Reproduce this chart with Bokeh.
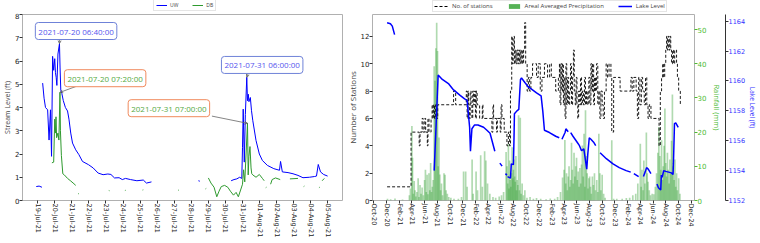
import numpy as np
import pandas as pd
from bokeh.plotting import figure
from bokeh.layouts import row, column
from bokeh.models import (ColumnDataSource, Range1d, LinearAxis, FixedTicker, DatetimeTickFormatter,
                          Legend, LegendItem, Label, Arrow, OpenHead)
from bokeh.embed import file_html
from bokeh.resources import INLINE

nan = float("nan")

# ---------------- left panel data: stream level (ft) ----------------
uw_time = ["2021-07-18 22:00", "2021-07-19 02:00", "2021-07-19 06:00", "2021-07-19 06:30",
           "2021-07-19 07:00", "2021-07-19 09:00", "2021-07-19 11:00", "2021-07-19 14:00",
           "2021-07-19 16:00", "2021-07-19 18:00", "2021-07-19 19:30", "2021-07-19 21:00",
           "2021-07-19 22:30", "2021-07-20 00:00", "2021-07-20 01:00", "2021-07-20 02:00",
           "2021-07-20 03:00", "2021-07-20 04:30", "2021-07-20 06:40", "2021-07-20 07:30",
           "2021-07-20 08:30", "2021-07-20 10:00", "2021-07-20 12:00", "2021-07-20 15:00",
           "2021-07-20 18:00", "2021-07-20 20:00", "2021-07-20 22:30", "2021-07-21 01:00",
           "2021-07-21 05:30", "2021-07-21 10:00", "2021-07-21 15:00", "2021-07-21 23:30",
           "2021-07-22 06:00", "2021-07-22 13:00", "2021-07-22 20:00", "2021-07-23 02:40",
           "2021-07-23 07:00", "2021-07-23 12:00", "2021-07-23 18:30", "2021-07-23 23:00",
           "2021-07-24 03:30", "2021-07-24 10:30", "2021-07-24 19:30", "2021-07-25 04:30",
           "2021-07-25 09:00", "2021-07-25 16:00", "2021-07-26 00:00",
           "2021-07-28 10:00", "2021-07-28 12:00", "2021-07-29 00:00",
           "2021-07-30 08:00", "2021-07-30 12:00", "2021-07-30 16:00", "2021-07-30 20:00",
           "2021-07-30 23:00", "2021-07-31 00:00", "2021-07-31 01:00", "2021-07-31 02:30",
           "2021-07-31 04:00", "2021-07-31 06:00", "2021-07-31 07:00", "2021-07-31 08:10",
           "2021-07-31 09:00", "2021-07-31 11:00", "2021-07-31 12:40", "2021-07-31 14:30",
           "2021-07-31 19:00", "2021-07-31 23:40", "2021-08-01 04:00", "2021-08-01 11:00",
           "2021-08-01 20:00", "2021-08-02 04:00", "2021-08-02 05:30", "2021-08-02 08:00",
           "2021-08-02 16:00", "2021-08-02 23:00", "2021-08-03 06:00", "2021-08-03 13:00",
           "2021-08-03 22:00", "2021-08-04 05:00", "2021-08-04 08:00", "2021-08-04 10:30",
           "2021-08-04 13:40", "2021-08-04 18:00", "2021-08-04 23:40"]
uw_level = [0.60, 0.62, 0.57, nan,
            5.05, 4.40, 4.00, 3.90,
            2.60, 3.90, 1.90, 6.20,
            5.60, 6.10, 5.50, 5.30,
            4.95, 6.30, 6.75, 5.70,
            4.75, 4.60, 4.30, 4.00,
            3.85, 3.50, 2.90, 2.47,
            2.18, 1.97, 1.68, 1.54,
            1.40, 1.18, 1.11, 1.14,
            1.12, 0.97, 0.98, 0.90,
            0.95, 0.90, 0.85, 0.88,
            0.75, 0.80, nan,
            0.85, 0.83, nan,
            0.85, 0.90, 0.93, 1.00,
            0.95, 2.29, 3.93, 1.65,
            3.70, 5.30, 4.29, 4.57,
            4.25, 4.43, 3.86, 3.43,
            2.58, 2.00, 1.72, 1.51,
            1.37, 1.30, 1.68, 1.23,
            1.20, 1.15, 1.08, 0.98,
            1.00, 1.03, 1.05, 1.55,
            1.23, 1.12, 1.05]

db_time = ["2021-07-19 20:00", "2021-07-19 22:30", "2021-07-20 00:00", "2021-07-20 01:00",
           "2021-07-20 01:45", "2021-07-20 02:40", "2021-07-20 04:30", "2021-07-20 05:50",
           "2021-07-20 07:20", "2021-07-20 08:00", "2021-07-20 09:20", "2021-07-20 11:20",
           "2021-07-20 13:30", "2021-07-20 18:00", "2021-07-20 22:30", "2021-07-21 03:00",
           "2021-07-21 05:30", "2021-07-21 07:00",
           "2021-07-21 09:00", "2021-07-21 10:00", "2021-07-21 11:00",
           "2021-07-23 04:00", "2021-07-23 05:00", "2021-07-23 06:00",
           "2021-07-24 02:40", "2021-07-24 03:40", "2021-07-24 04:40",
           "2021-07-25 03:30", "2021-07-25 04:30", "2021-07-25 05:30",
           "2021-07-27 05:30", "2021-07-27 06:30", "2021-07-27 07:30",
           "2021-07-28 20:00", "2021-07-28 21:00", "2021-07-28 22:00",
           "2021-07-29 00:00", "2021-07-29 03:40", "2021-07-29 08:00", "2021-07-29 11:50",
           "2021-07-29 15:00", "2021-07-29 18:10", "2021-07-29 22:50", "2021-07-30 03:20",
           "2021-07-30 07:00", "2021-07-30 11:20", "2021-07-30 15:00", "2021-07-30 18:10",
           "2021-07-30 21:20", "2021-07-31 00:00", "2021-07-31 01:30", "2021-07-31 03:10",
           "2021-07-31 07:00", "2021-07-31 08:00", "2021-07-31 09:00", "2021-07-31 10:30",
           "2021-07-31 12:00", "2021-07-31 13:00", "2021-07-31 14:30", "2021-07-31 19:00",
           "2021-07-31 23:40", "2021-08-01 04:00", "2021-08-01 06:30", "2021-08-01 07:30",
           "2021-08-01 08:40", "2021-08-01 09:40", "2021-08-01 10:40",
           "2021-08-01 15:30", "2021-08-01 17:40", "2021-08-01 22:20", "2021-08-02 05:00",
           "2021-08-02 10:00",
           "2021-08-02 18:40", "2021-08-03 06:00", "2021-08-03 10:00",
           "2021-08-03 14:00", "2021-08-03 15:00", "2021-08-03 16:00",
           "2021-08-04 11:30", "2021-08-04 12:30", "2021-08-04 13:30",
           "2021-08-04 16:00", "2021-08-04 19:00"]
db_level = [1.62, 1.65, 3.50, 2.90,
            3.60, 2.70, 2.90, 2.60,
            4.65, 3.00, 1.94, 1.15,
            1.10, 0.95, 0.84, 0.72,
            0.65, nan,
            0.30, 0.28, nan,
            0.43, 0.42, nan,
            0.43, 0.44, nan,
            0.45, 0.46, nan,
            0.45, 0.44, nan,
            0.50, 0.52, nan,
            0.97, 0.75, 0.57, 0.16,
            0.40, 0.60, 0.65, 0.57,
            0.40, 0.23, 0.35, 0.16,
            0.45, 0.70, 1.32, 0.80,
            3.32, 1.10, 1.90, 2.32,
            1.40, 1.15, 1.10, 1.00,
            1.12, 0.95, 0.85, nan,
            0.55, 0.57, nan,
            0.70, 0.90, 0.97, 0.90,
            nan,
            0.93, 0.95, nan,
            0.60, 0.62, nan,
            0.55, 0.57, nan,
            0.85, 0.95]

left_tick_dates = ["2021-07-19", "2021-07-20", "2021-07-21", "2021-07-22", "2021-07-23", "2021-07-24",
                   "2021-07-25", "2021-07-26", "2021-07-27", "2021-07-28", "2021-07-29", "2021-07-30",
                   "2021-07-31", "2021-08-01", "2021-08-02", "2021-08-03", "2021-08-04", "2021-08-05"]
stream_ticks = [0, 1, 2, 3, 4, 5, 6, 7, 8]

# annotations: target point, text, text-box centre, connector start
ann_target_time = ["2021-07-20 06:40", "2021-07-20 07:20", "2021-07-31 07:00", "2021-07-31 06:00"]
ann_target_value = [6.75, 4.65, 3.32, 5.30]
ann_text = ["2021-07-20 06:40:00", "2021-07-20 07:20:00", "2021-07-31 07:00:00", "2021-07-31 06:00:00"]
ann_box_time = ["2021-07-21 06:00", "2021-07-22 22:50", "2021-07-26 16:30", "2021-08-01 03:40"]
ann_box_value = [7.29, 5.26, 3.97, 5.83]
ann_from_time = ["2021-07-20 07:00", "2021-07-21 06:20", "2021-07-29 05:00", "2021-07-31 08:40"]
ann_from_value = [6.97, 4.91, 3.63, 5.51]
ann_series = ["UW", "DB", "DB", "UW"]

# ---------------- right panel data ----------------
station_date = ["2020-12-03", "2021-03-28", "2021-05-06", "2021-05-10", "2021-05-20", "2021-05-25",
                "2021-06-02", "2021-06-06", "2021-06-14", "2021-06-17", "2021-06-22", "2021-07-02",
                "2021-07-07", "2021-07-11", "2021-07-15", "2021-07-19", "2021-07-24", "2021-07-30",
                "2021-08-03", "2021-10-18", "2021-10-28", "2021-12-18", "2021-12-22", "2021-12-26",
                "2021-12-29", "2022-01-02", "2022-01-06", "2022-01-10", "2022-01-14", "2022-01-18",
                "2022-01-22", "2022-01-27", "2022-01-31", "2022-02-04", "2022-02-08", "2022-02-20",
                "2022-03-05", "2022-03-08", "2022-04-20", "2022-04-25", "2022-04-28", "2022-05-12",
                "2022-05-16", "2022-05-30", "2022-06-03", "2022-06-07", "2022-06-18", "2022-07-01",
                "2022-07-08", "2022-07-14", "2022-07-18", "2022-07-24", "2022-07-27", "2022-07-31",
                "2022-08-03", "2022-08-06", "2022-08-10", "2022-08-14", "2022-08-18", "2022-08-22",
                "2022-08-26", "2022-08-30", "2022-09-03", "2022-09-07", "2022-09-11", "2022-09-15",
                "2022-09-19", "2022-09-24", "2022-09-29", "2022-10-06", "2022-10-12", "2022-10-18",
                "2022-10-24", "2022-11-01", "2022-11-20", "2022-11-28", "2022-12-08", "2022-12-16",
                "2022-12-28", "2023-01-12", "2023-01-22", "2023-01-30", "2023-02-20", "2023-03-05",
                "2023-03-10", "2023-03-13", "2023-03-17", "2023-03-21", "2023-03-25", "2023-03-29",
                "2023-04-02", "2023-04-06", "2023-04-10", "2023-04-14", "2023-04-18", "2023-04-23",
                "2023-04-28", "2023-05-02", "2023-05-07", "2023-05-12", "2023-05-16", "2023-05-20",
                "2023-05-25", "2023-05-29", "2023-06-02", "2023-06-06", "2023-06-10", "2023-06-15",
                "2023-06-19", "2023-06-24", "2023-06-28", "2023-07-03", "2023-07-08", "2023-07-13",
                "2023-07-18", "2023-07-24", "2023-07-29", "2023-08-03", "2023-08-08", "2023-08-12",
                "2023-08-16", "2023-08-21", "2023-08-25", "2023-08-30", "2023-09-04", "2023-09-10",
                "2023-09-15", "2023-09-20", "2023-09-25", "2023-10-01", "2023-10-06", "2023-10-12",
                "2023-10-20", "2023-10-27", "2023-11-03", "2023-11-12", "2023-11-16", "2023-11-25",
                "2023-12-26", "2024-02-16", "2024-02-22", "2024-03-01", "2024-03-12", "2024-03-18",
                "2024-03-24", "2024-03-30", "2024-04-06", "2024-04-12", "2024-04-20", "2024-04-26",
                "2024-05-02", "2024-05-08", "2024-05-14", "2024-05-22", "2024-06-30", "2024-07-06",
                "2024-07-12", "2024-07-17", "2024-07-22", "2024-07-27", "2024-08-01", "2024-08-05",
                "2024-08-09", "2024-08-13", "2024-08-17", "2024-08-21", "2024-08-25", "2024-08-29",
                "2024-09-03", "2024-09-08", "2024-09-13", "2024-09-22", "2024-09-26", "2024-10-02",
                "2024-10-10"]
station_count = [1, 5, 4, 5, 6, 5,
                 6, 5, 4, 6, 5, 6,
                 7, 6, 7, 6, 7, 6,
                 7, 8, 7, 8, 6, 8,
                 7, 6, 8, 7, 6, 8,
                 7, 8, 6, 8, 7, 6,
                 7, 6, 5, 7, 6, 5,
                 6, 5, 7, 6, 5, 4,
                 5, 4, 8, 12, 10, 11,
                 12, 10, 11, 10, 11, 10,
                 11, 10, 11, 10, 11, 10,
                 11, 13, 10, 8, 9, 8,
                 9, 10, 9, 10, 8, 9,
                 10, 9, 10, 9, 8, 9,
                 10, 7, 10, 8, 10, 7,
                 9, 6, 10, 7, 9, 7,
                 8, 10, 7, 9, 11, 8,
                 7, 9, 7, 6, 8, 7,
                 9, 7, 8, 7, 9, 7,
                 8, 7, 9, 7, 10, 8,
                 10, 7, 9, 8, 10, 7,
                 8, 6, 8, 7, 6, 8,
                 10, 9, 10, 9, 5, 9,
                 8, 9, 8, 9, 8, 6,
                 9, 7, 9, 8, 7, 9,
                 7, 6, 7, 6, 4, 8,
                 9, 10, 9, 10, 11, 12,
                 11, 12, 11, 12, 11, 10,
                 11, 10, 11, 10, 9, 8,
                 7, 7]

rain_date = ["2020-12-05", "2020-12-20", "2021-01-10", "2021-02-15", "2021-03-20", "2021-03-25",
             "2021-04-01", "2021-04-04", "2021-04-08", "2021-04-12", "2021-04-16", "2021-04-20",
             "2021-04-25", "2021-05-01", "2021-05-05", "2021-05-10", "2021-05-15", "2021-05-20",
             "2021-05-26", "2021-06-01", "2021-06-05", "2021-06-09", "2021-06-13", "2021-06-17",
             "2021-06-22", "2021-06-26", "2021-06-30", "2021-07-04", "2021-07-08", "2021-07-12",
             "2021-07-17", "2021-07-21", "2021-07-25", "2021-07-29", "2021-08-02", "2021-08-05",
             "2021-08-09", "2021-08-13", "2021-08-17", "2021-08-21", "2021-08-26", "2021-09-02",
             "2021-09-07", "2021-09-12", "2021-09-18", "2021-09-25", "2021-10-05", "2021-10-20",
             "2021-11-10", "2021-11-25", "2021-12-05", "2021-12-15", "2021-12-22", "2022-01-15",
             "2022-01-20", "2022-02-03", "2022-02-10", "2022-02-25", "2022-03-05", "2022-03-16",
             "2022-03-22", "2022-03-30", "2022-04-10", "2022-04-25", "2022-05-08", "2022-05-25",
             "2022-06-05", "2022-06-15", "2022-06-27", "2022-07-01", "2022-07-05", "2022-07-08",
             "2022-07-11", "2022-07-14", "2022-07-17", "2022-07-20", "2022-07-23", "2022-07-26",
             "2022-07-29", "2022-08-01", "2022-08-04", "2022-08-07", "2022-08-10", "2022-08-13",
             "2022-08-16", "2022-08-19", "2022-08-22", "2022-08-26", "2022-08-30", "2022-09-03",
             "2022-09-07", "2022-09-12", "2022-09-18", "2022-09-25", "2022-10-05", "2022-10-20",
             "2022-11-05", "2022-11-20", "2022-12-10", "2023-01-05", "2023-01-25", "2023-02-15",
             "2023-03-01", "2023-03-15", "2023-03-25", "2023-04-01", "2023-04-05", "2023-04-09",
             "2023-04-13", "2023-04-17", "2023-04-21", "2023-04-25", "2023-04-29", "2023-05-03",
             "2023-05-07", "2023-05-11", "2023-05-15", "2023-05-19", "2023-05-23", "2023-05-27",
             "2023-05-31", "2023-06-04", "2023-06-08", "2023-06-12", "2023-06-16", "2023-06-20",
             "2023-06-24", "2023-06-28", "2023-07-02", "2023-07-06", "2023-07-10", "2023-07-13",
             "2023-07-17", "2023-07-21", "2023-07-25", "2023-07-29", "2023-08-02", "2023-08-06",
             "2023-08-10", "2023-08-15", "2023-08-20", "2023-08-25", "2023-08-30", "2023-09-05",
             "2023-09-10", "2023-09-15", "2023-09-20", "2023-09-25", "2023-10-01", "2023-10-08",
             "2023-10-15", "2023-11-16", "2023-11-25", "2023-12-10", "2024-01-05", "2024-01-25",
             "2024-02-10", "2024-02-25", "2024-03-10", "2024-03-20", "2024-04-01", "2024-04-05",
             "2024-04-09", "2024-04-14", "2024-04-18", "2024-04-23", "2024-04-30", "2024-05-04",
             "2024-05-08", "2024-05-14", "2024-05-20", "2024-05-28", "2024-06-05", "2024-06-12",
             "2024-06-18", "2024-06-24", "2024-06-29", "2024-07-04", "2024-07-08", "2024-07-12",
             "2024-07-16", "2024-07-20", "2024-07-24", "2024-07-28", "2024-08-01", "2024-08-05",
             "2024-08-09", "2024-08-13", "2024-08-17", "2024-08-21", "2024-08-25", "2024-08-29",
             "2024-09-02", "2024-09-06", "2024-09-10", "2024-09-14", "2024-09-18", "2024-09-22",
             "2024-09-26", "2024-10-02", "2024-10-08"]
rain_mm = [0.5, 0.4, 0.6, 0.3, 1.5, 3.5,
           21.8, 12.5, 2.0, 5.7, 3.0, 1.2,
           2.5, 6.5, 1.0, 4.5, 2.0, 3.8,
           1.5, 6.0, 9.0, 2.5, 7.5, 1.8,
           8.0, 3.0, 11.0, 2.5, 4.0, 6.0,
           39.3, 35.0, 44.5, 52.0, 43.7, 10.0,
           18.4, 7.6, 3.0, 5.0, 1.5, 8.0,
           7.5, 3.0, 2.0, 1.0, 0.8, 0.5,
           0.5, 1.0, 8.5, 8.5, 4.0, 12.0,
           2.0, 8.5, 3.0, 13.2, 4.0, 14.4,
           11.7, 5.0, 2.0, 1.0, 0.8, 1.2,
           1.5, 2.5, 14.2, 10.0, 5.0, 16.6,
           3.5, 11.7, 6.0, 4.0, 8.0, 15.6,
           6.5, 9.0, 12.0, 7.0, 5.5, 13.0,
           3.0, 6.0, 4.5, 24.9, 3.0, 24.2,
           2.0, 5.0, 1.5, 3.0, 0.8, 1.0,
           0.5, 0.7, 0.5, 0.4, 0.6, 0.5,
           1.0, 2.5, 6.7, 9.0, 17.7, 5.0,
           8.0, 3.0, 7.0, 10.0, 4.0, 6.0,
           16.9, 9.0, 5.0, 14.0, 7.0, 10.0,
           12.5, 6.0, 8.5, 4.0, 9.5, 5.0,
           10.5, 16.1, 7.0, 19.5, 4.0, 26.4,
           13.0, 8.0, 3.5, 6.5, 7.0, 4.0,
           2.0, 7.0, 4.5, 8.0, 3.0, 6.0,
           2.5, 19.5, 8.0, 3.0, 7.5, 2.0,
           0.8, 17.6, 0.5, 0.5, 0.5, 0.7,
           0.8, 1.5, 2.0, 5.0, 16.6, 4.0,
           9.0, 3.0, 11.7, 5.0, 19.9, 8.0,
           5.5, 3.0, 1.5, 2.0, 1.8, 4.0,
           8.0, 14.0, 21.5, 13.0, 9.0, 17.6,
           6.0, 10.0, 16.0, 26.9, 11.0, 7.0,
           14.0, 9.0, 5.0, 12.0, 8.0, 17.5,
           31.0, 10.0, 6.0, 12.0, 4.0, 8.0,
           3.0, 6.5, 2.0]

lake_date = ["2020-12-03", "2020-12-19", "2020-12-28", "2021-01-08", "2021-01-09",
             "2021-07-17", "2021-07-24", "2021-08-05", "2021-08-25", "2021-09-25", "2021-10-18",
             "2021-11-17", "2021-12-10", "2021-12-22", "2021-12-28", "2022-01-03", "2022-01-07",
             "2022-01-14", "2022-01-26", "2022-02-12", "2022-03-11", "2022-03-27", "2022-04-11",
             "2022-05-04", "2022-05-05",
             "2022-05-28", "2022-06-08", "2022-06-09",
             "2022-06-24", "2022-07-01", "2022-07-02",
             "2022-07-04", "2022-07-18", "2022-07-22", "2022-08-01", "2022-08-04", "2022-08-06",
             "2022-08-18", "2022-08-27", "2022-09-04", "2022-09-09", "2022-09-25", "2022-10-12",
             "2022-10-27", "2022-11-20", "2022-12-12", "2022-12-20", "2022-12-28", "2023-01-21",
             "2023-02-20", "2023-03-09", "2023-03-10",
             "2023-03-22", "2023-04-06", "2023-04-10", "2023-04-21", "2023-04-22",
             "2023-05-03", "2023-05-14", "2023-05-24", "2023-06-03", "2023-06-14", "2023-06-24",
             "2023-07-05", "2023-07-19", "2023-07-24", "2023-07-31", "2023-08-08", "2023-08-21",
             "2023-08-31", "2023-09-01",
             "2023-09-21", "2023-10-06", "2023-10-21", "2023-11-22", "2023-12-22", "2024-01-24",
             "2024-02-15", "2024-02-16",
             "2024-03-01", "2024-03-24", "2024-03-25",
             "2024-04-16", "2024-04-24", "2024-05-01", "2024-05-09", "2024-05-22", "2024-05-23",
             "2024-06-20", "2024-06-27", "2024-07-08", "2024-07-11", "2024-07-15", "2024-07-22",
             "2024-08-01", "2024-08-15", "2024-08-28", "2024-09-05",
             "2024-09-07", "2024-09-12", "2024-09-18", "2024-09-30"]
lake_level = [1163.9, 1163.83, 1163.67, 1163.1, nan,
              1154.0, 1156.3, 1160.4, 1160.1, 1159.8, 1159.4,
              1159.05, 1158.8, 1158.7, 1157.8, 1156.9, 1155.3,
              1156.8, 1157.05, 1157.05, 1156.9, 1156.7, 1156.5,
              1155.3, nan,
              1154.5, 1154.3, nan,
              1153.8, 1153.7, nan,
              1153.6, 1153.5, 1154.45, 1154.4, 1156.2, 1157.8,
              1158.0, 1158.1, 1160.1, 1160.2, 1159.9, 1159.6,
              1159.45, 1159.2, 1159.0, 1158.0, 1156.7, 1156.55,
              1156.3, 1156.2, nan,
              1156.1, 1156.55, 1156.8, 1156.6, nan,
              1156.55, 1156.3, 1156.1, 1155.9, 1155.67, 1155.33,
              1155.45, 1154.1, 1155.1, 1156.2, 1156.1, 1155.9,
              1155.67, nan,
              1155.2, 1155.0, 1154.8, 1154.45, 1154.2, 1154.0,
              1153.9, nan,
              1153.8, 1153.6, nan,
              1153.6, 1153.9, 1154.2, 1154.1, 1153.8, nan,
              1153.1, 1152.85, 1152.7, 1153.7, 1153.55, 1154.0,
              1153.95, 1153.9, 1153.85, 1153.75,
              1154.5, 1157.15, 1157.2, 1156.9]

right_tick_dates = ["2020-10-01", "2020-12-01", "2021-02-01", "2021-04-01", "2021-06-01", "2021-08-01",
                    "2021-10-01", "2021-12-01", "2022-02-01", "2022-04-01", "2022-06-01", "2022-08-01",
                    "2022-10-01", "2022-12-01", "2023-02-01", "2023-04-01", "2023-06-01", "2023-08-01",
                    "2023-10-01", "2023-12-01", "2024-02-01", "2024-04-01", "2024-06-01", "2024-08-01",
                    "2024-10-01", "2024-12-01"]
station_ticks = [0, 2, 4, 6, 8, 10, 12]
rain_ticks = [0, 10, 20, 30, 40, 50]
lake_ticks = [1152, 1154, 1156, 1158, 1160, 1162, 1164]

# ---------------- helpers & styles ----------------
def to_ms(seq):
    return [pd.Timestamp(s).value / 1e6 for s in seq]

TICK_FONT = "DejaVu Sans"
TEXT_FONT = "Open Sans"
FRAME = "#b0b0b0"
UW_COLOR = "blue"
DB_COLOR = "#2e9a2e"
RAIN_COLOR = "#2f9f2f"
RAIN_TXT = "#4cbb33"
LAKE_COLOR = "blue"
LAKE_TXT = "#3333ff"
LEFT_W = 343
RIGHT_W = 760 - LEFT_W
LEG_H = 12
MAIN_H = 243 - LEG_H


def style_axis(ax, size="7px", color="#222222"):
    ax.major_label_text_font = TICK_FONT
    ax.major_label_text_font_size = size
    ax.major_label_text_color = color
    ax.major_tick_out = 3
    ax.major_tick_in = 0
    ax.minor_tick_line_color = None
    ax.major_tick_line_color = "#333333"
    ax.axis_line_color = None
    ax.major_label_standoff = 0
    ax.axis_label_standoff = 0
    ax.axis_label_text_font = TEXT_FONT
    ax.axis_label_text_font_style = "normal"


def legend_strip(width):
    f = figure(width=width, height=LEG_H, output_backend="svg", toolbar_location=None,
               x_range=Range1d(0, 1), y_range=Range1d(0, 1), x_axis_location=None, y_axis_location=None,
               min_border=0)
    f.grid.visible = False
    f.outline_line_color = None
    return f


# ================= LEFT FIGURE =================
left = figure(width=LEFT_W, height=MAIN_H, x_axis_type="datetime", output_backend="svg",
              toolbar_location=None,
              x_range=Range1d(*to_ms(["2021-07-18 02:40", "2021-08-05 22:00"])), y_range=Range1d(0, 8),
              min_border_left=15, min_border_right=0, min_border_top=2, min_border_bottom=43)
left.grid.visible = False
left.outline_line_color = FRAME

uw_src = ColumnDataSource(dict(t=to_ms(uw_time), v=uw_level))
db_src = ColumnDataSource(dict(t=to_ms(db_time), v=db_level))
left.line("t", "v", source=uw_src, line_color=UW_COLOR, line_width=1)
left.line("t", "v", source=db_src, line_color=DB_COLOR, line_width=1)

left.xaxis.ticker = FixedTicker(ticks=to_ms(left_tick_dates))
left.xaxis.formatter = DatetimeTickFormatter(days="%d-%b-%y", months="%d-%b-%y", hours="%d-%b-%y",
                                             strip_leading_zeros=False)
left.xaxis.major_label_orientation = "vertical"
left.yaxis.ticker = FixedTicker(ticks=stream_ticks)
left.yaxis.axis_label = "Stream Level (ft)"
style_axis(left.xaxis[0], size="6.5px")
style_axis(left.yaxis[0])
left.yaxis.axis_label_text_font_size = "7px"

for i in range(len(ann_text)):
    is_uw = ann_series[i] == "UW"
    txt_color = "#5555ee" if is_uw else "#55aa44"
    box_color = "#6f82d8" if is_uw else "#f08a5d"
    tx, = to_ms([ann_box_time[i]])
    fx, = to_ms([ann_from_time[i]])
    ex, = to_ms([ann_target_time[i]])
    left.add_layout(Arrow(end=OpenHead(size=3, line_color="#555555", line_width=0.8),
                          x_start=fx, y_start=ann_from_value[i], x_end=ex, y_end=ann_target_value[i],
                          line_color="#666666", line_width=0.8))
    left.add_layout(Label(x=tx, y=ann_box_value[i], text=ann_text[i], text_font=TEXT_FONT,
                          text_font_size="8px", text_color=txt_color, text_align="center",
                          text_baseline="middle", border_line_color=box_color, border_line_width=1,
                          background_fill_color="white", border_radius=3, padding=3))

# legend strip above the left panel (legend-only proxy glyphs hold no visible point)
leg_left = legend_strip(LEFT_W)
l_uw = leg_left.line(x=[nan], y=[nan], line_color=UW_COLOR, line_width=1)
l_db = leg_left.line(x=[nan], y=[nan], line_color=DB_COLOR, line_width=1)
leg_left.add_layout(Legend(items=[LegendItem(label="UW", renderers=[l_uw]),
                                  LegendItem(label="DB", renderers=[l_db])],
                           orientation="horizontal", location=(153, 1), label_text_font=TEXT_FONT,
                           label_text_font_size="5px", glyph_width=11, glyph_height=6, label_height=6,
                           label_width=6, label_standoff=3, spacing=14, padding=2, margin=0,
                           border_line_color="#cccccc", border_line_width=0.8), "center")

# ================= RIGHT FIGURE =================
right = figure(width=RIGHT_W, height=MAIN_H, x_axis_type="datetime", output_backend="svg",
               toolbar_location=None,
               x_range=Range1d(*to_ms(["2020-09-24", "2024-12-17"])), y_range=Range1d(0, 13.6),
               min_border_left=20, min_border_right=55, min_border_top=2, min_border_bottom=43)
right.grid.visible = False
right.outline_line_color = FRAME
right.extra_y_ranges = {"rain": Range1d(0, 54.4), "lake": Range1d(1152, 1164.45)}

rain_src = ColumnDataSource(dict(t=to_ms(rain_date), v=rain_mm))
DAY = 86400000.0
right.vbar(x="t", top="v", width=8 * DAY, source=rain_src, y_range_name="rain",
           fill_color=RAIN_COLOR, fill_alpha=0.38, line_color=None)

st_src = ColumnDataSource(dict(t=to_ms(station_date), v=station_count))
right.step("t", "v", source=st_src, mode="after", line_color="black", line_width=0.9, line_dash="3 2")

lake_src = ColumnDataSource(dict(t=to_ms(lake_date), v=lake_level))
right.line("t", "v", source=lake_src, y_range_name="lake", line_color=LAKE_COLOR, line_width=1.5)

right.xaxis.ticker = FixedTicker(ticks=to_ms(right_tick_dates))
right.xaxis.formatter = DatetimeTickFormatter(months="%b-%y", days="%b-%y", years="%b-%y",
                                              strip_leading_zeros=False)
right.xaxis.major_label_orientation = "vertical"
style_axis(right.xaxis[0], size="6.5px")
right.yaxis.ticker = FixedTicker(ticks=station_ticks)
right.yaxis.axis_label = "Number of Stations"
style_axis(right.yaxis[0], size="7px")
right.yaxis.axis_label_text_font_size = "8px"

rain_axis = LinearAxis(y_range_name="rain", axis_label="Rainfall (mm)", ticker=FixedTicker(ticks=rain_ticks))
style_axis(rain_axis, size="7px", color=RAIN_TXT)
rain_axis.major_tick_line_color = RAIN_TXT
rain_axis.axis_label_text_color = RAIN_TXT
rain_axis.axis_label_text_font_size = "7.5px"
rain_axis.axis_label_standoff = 3
right.add_layout(rain_axis, "right")

lake_axis = LinearAxis(y_range_name="lake", axis_label="Lake Level (ft)", ticker=FixedTicker(ticks=lake_ticks))
style_axis(lake_axis, size="6.5px", color=LAKE_TXT)
lake_axis.axis_line_color = "#333333"
lake_axis.major_tick_line_color = "#333333"
lake_axis.axis_label_text_color = LAKE_TXT
lake_axis.axis_label_text_font_size = "6.5px"
right.add_layout(lake_axis, "right")

# legend strip above the right panel
leg_right = legend_strip(RIGHT_W)
r_st = leg_right.line(x=[nan], y=[nan], line_color="black", line_width=1, line_dash="3 2")
r_rain = leg_right.vbar(x=[nan], top=[nan], width=1, fill_color="#44aa44", fill_alpha=0.9, line_color=None)
r_lake = leg_right.line(x=[nan], y=[nan], line_color=LAKE_COLOR, line_width=1.5)
leg_right.add_layout(Legend(items=[LegendItem(label="No. of stations", renderers=[r_st]),
                                   LegendItem(label="Areal Averaged Precipitation", renderers=[r_rain]),
                                   LegendItem(label="Lake Level", renderers=[r_lake])],
                            orientation="horizontal", location=(89, 0), label_text_font=TEXT_FONT,
                            label_text_font_size="6px", glyph_width=14, glyph_height=6, label_height=6,
                            label_standoff=4, spacing=14, padding=1, margin=0,
                            border_line_color="#cccccc", border_line_width=0.8), "center")

layout = column(row(leg_left, leg_right), row(left, right))
open("out.html", "w").write(file_html(layout, INLINE))
